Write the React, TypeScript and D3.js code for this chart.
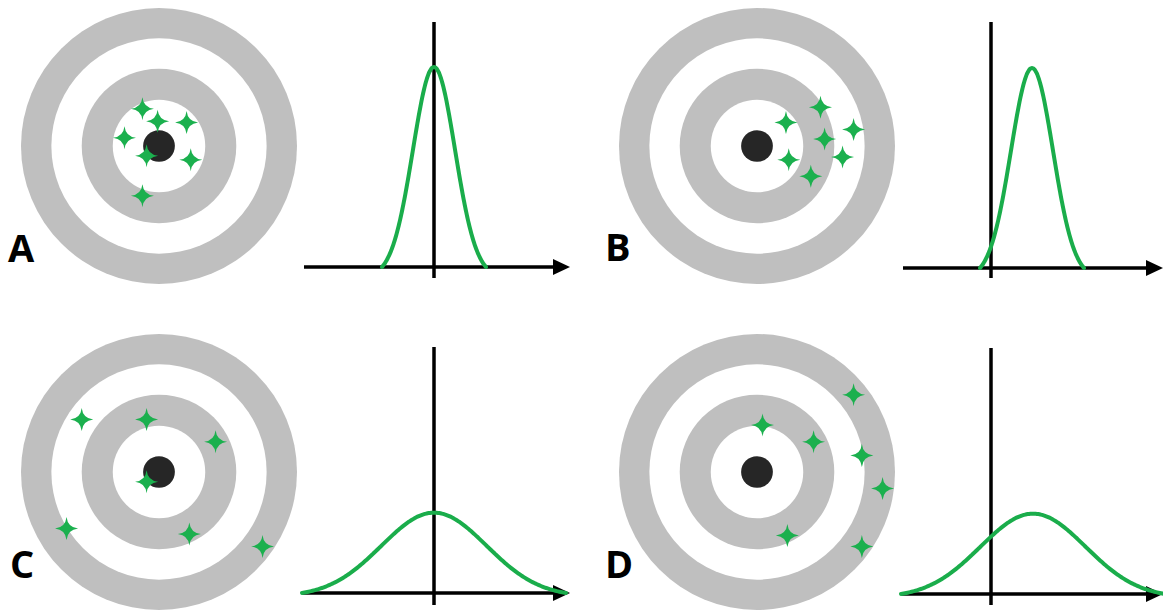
import React from "react";
import * as d3 from "d3";

// Panel labels
const panelLabels = ["A", "B", "C", "D"];

// Hits on each target, in target units (outer ring radius = 1), x right, y down
const hitsA: [number, number][] = [
  [-0.12, -0.27], [-0.01, -0.18], [0.2, -0.17], [-0.25, -0.06], [-0.09, 0.07], [0.23, 0.1], [-0.12, 0.36],
];
const hitsB: [number, number][] = [
  [0.46, -0.28], [0.21, -0.17], [0.7, -0.12], [0.49, -0.05], [0.23, 0.1], [0.62, 0.08], [0.39, 0.22],
];
const hitsC: [number, number][] = [
  [-0.56, -0.38], [-0.09, -0.38], [0.41, -0.22], [-0.09, 0.07], [-0.67, 0.41], [0.22, 0.45], [0.75, 0.54],
];
const hitsD: [number, number][] = [
  [0.7, -0.56], [0.04, -0.34], [0.41, -0.22], [0.76, -0.12], [0.91, 0.12], [0.22, 0.46], [0.76, 0.54],
];
const hitsAll = [hitsA, hitsB, hitsC, hitsD];

// Distributions shown beside each target (mean = bias, sd = spread), in axis units
const distMeans = [0, 0.82, 0, 0.84];
const distSds = [0.42, 0.42, 1.05, 1.05];
const distHalfSpans = [1.04, 1.04, 2.64, 2.64];
// axis domains for the plots
const xDomainsLeft: [number, number][] = [[-2.6, 2.68], [-1.76, 3.44], [-2.62, 2.68], [-1.78, 3.44]];

const ringRadii = [1, 0.78, 0.56, 0.335];
const bullRadius = 0.115;

const GRAY = "#bfbfbf";
const GREEN = "#1aad4b";
const STAR_GREEN = "#1bb04e";

const W = 1163;
const H = 611;

function starPath(s: number) {
  const c = s * 0.1;
  return `M0,${-s} Q${c},${-c} ${s},0 Q${c},${c} 0,${s} Q${-c},${c} ${-s},0 Q${-c},${-c} 0,${-s} Z`;
}

const layout = [
  { cx: 159, cy: 146, labelX: 8, labelY: 262, axisX: 434, axisTop: 22, axisBottom: 278, baseY: 267, xl: 304, xr: 570 },
  { cx: 757, cy: 146, labelX: 605, labelY: 261, axisX: 991, axisTop: 22, axisBottom: 278, baseY: 268, xl: 903, xr: 1163 },
  { cx: 159, cy: 472, labelX: 10, labelY: 578, axisX: 434, axisTop: 347, axisBottom: 605, baseY: 593, xl: 303, xr: 570 },
  { cx: 757, cy: 472, labelX: 605, labelY: 578, axisX: 991, axisTop: 348, axisBottom: 605, baseY: 594, xl: 902, xr: 1163 },
];

const OUTER_R = 138;
const PEAK_PX = 200;

export default function App() {
  const pdf = (x: number, m: number, s: number) =>
    Math.exp(-((x - m) * (x - m)) / (2 * s * s)) / (s * Math.sqrt(2 * Math.PI));
  const refPeak = pdf(0, 0, distSds[0]) - pdf(distHalfSpans[0], 0, distSds[0]);

  return (
    <svg
      width={W}
      height={H}
      style={{ position: "absolute", left: 0, top: 0, background: "#fff" }}
      fontFamily="'Open Sans', 'Liberation Sans', sans-serif"
    >
      {layout.map((L, i) => {
        const rScale = d3.scaleLinear().domain([0, 1]).range([0, OUTER_R]);
        const hx = d3.scaleLinear().domain([-1, 1]).range([L.cx - OUTER_R, L.cx + OUTER_R]);
        const hy = d3.scaleLinear().domain([-1, 1]).range([L.cy - OUTER_R, L.cy + OUTER_R]);

        const pxPerUnit = 50;
        const d0 = xDomainsLeft[i];
        const x = d3
          .scaleLinear()
          .domain(d0)
          .range([L.axisX + d0[0] * pxPerUnit, L.axisX + d0[1] * pxPerUnit]);
        const y = d3.scaleLinear().domain([0, refPeak]).range([L.baseY, L.baseY - PEAK_PX]);

        const m = distMeans[i];
        const s = distSds[i];
        const hs = distHalfSpans[i];
        const tail = pdf(m + hs, m, s);
        const xs = d3.range(m - hs, m + hs + 1e-9, (2 * hs) / 200);
        const line = d3
          .line<number>()
          .x((v) => x(v))
          .y((v) => y(Math.max(0, pdf(v, m, s) - tail)))
          .curve(d3.curveBasis);

        const tipX = L.xr;
        return (
          <g key={i}>
            {ringRadii.map((r, k) => (
              <circle key={k} cx={L.cx} cy={L.cy} r={rScale(r)} fill={k % 2 === 0 ? GRAY : "#fff"} />
            ))}
            <circle cx={L.cx} cy={L.cy} r={rScale(bullRadius)} fill="#262626" />
            {hitsAll[i].map((h, k) => (
              <path key={k} d={starPath(11.5)} transform={`translate(${hx(h[0])},${hy(h[1])})`} fill={STAR_GREEN} />
            ))}
            <text x={L.labelX} y={L.labelY} fontSize={38} fontWeight={700} fill="#000">
              {panelLabels[i]}
            </text>

            <line x1={L.axisX} x2={L.axisX} y1={L.axisTop} y2={L.axisBottom} stroke="#000" strokeWidth={3.5} />
            <line x1={L.xl} x2={tipX - 12} y1={L.baseY} y2={L.baseY} stroke="#000" strokeWidth={3.5} />
            <path d={`M${tipX},${L.baseY} L${tipX - 17},${L.baseY - 8} L${tipX - 17},${L.baseY + 8} Z`} fill="#000" />

            <path d={line(xs) || ""} fill="none" stroke={GREEN} strokeWidth={4} strokeLinecap="round" />
          </g>
        );
      })}
    </svg>
  );
}
